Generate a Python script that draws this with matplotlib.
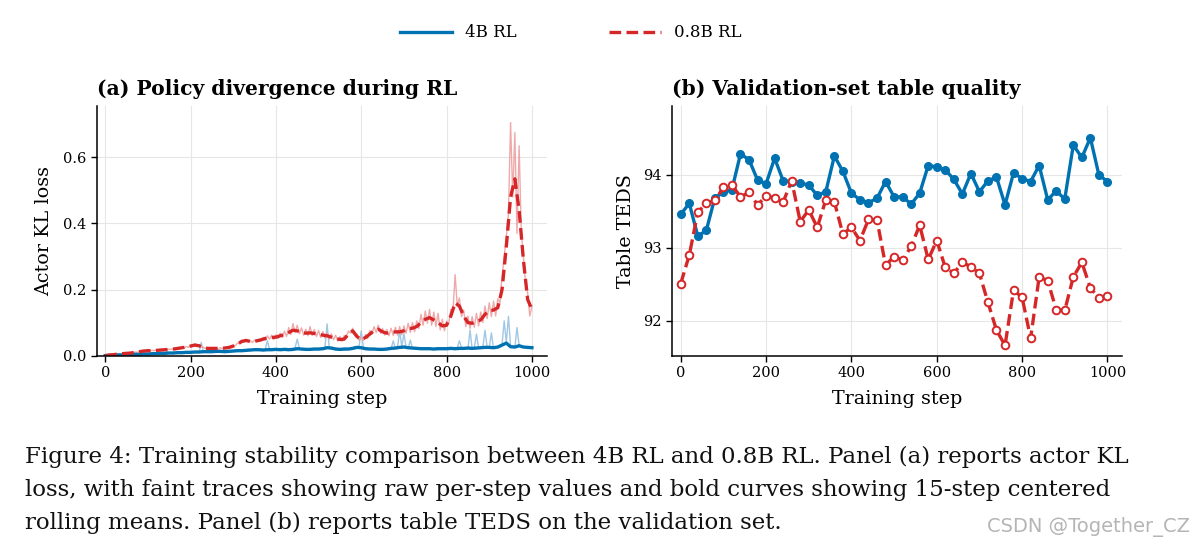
import numpy as np
import matplotlib
matplotlib.use("Agg")
import matplotlib.pyplot as plt

# ---- panel (a): actor KL loss ----
# raw per-step values, sampled every 5 steps
raw_steps = list(range(0, 1001, 5))
kl_raw_08b = [
    0.000, 0.002, 0.001, 0.003, 0.004, 0.003, 0.006, 0.005, 0.007, 0.006,
    0.008, 0.007, 0.009, 0.008, 0.011, 0.010, 0.013, 0.012, 0.015, 0.014,
    0.016, 0.014, 0.016, 0.015, 0.017, 0.016, 0.018, 0.016, 0.019, 0.018,
    0.020, 0.019, 0.021, 0.020, 0.024, 0.021, 0.026, 0.023, 0.028, 0.025,
    0.031, 0.029, 0.036, 0.031, 0.033, 0.026, 0.025, 0.022, 0.023, 0.020,
    0.024, 0.021, 0.023, 0.020, 0.024, 0.021, 0.025, 0.022, 0.027, 0.024,
    0.031, 0.030, 0.038, 0.036, 0.047, 0.041, 0.049, 0.042, 0.045, 0.040,
    0.047, 0.042, 0.050, 0.044, 0.055, 0.046, 0.060, 0.050, 0.062, 0.049,
    0.063, 0.052, 0.068, 0.055, 0.074, 0.058, 0.085, 0.064, 0.097, 0.070,
    0.092, 0.066, 0.084, 0.062, 0.080, 0.060, 0.088, 0.061, 0.079, 0.058,
    0.076, 0.055, 0.073, 0.053, 0.070, 0.050, 0.066, 0.048, 0.062, 0.044,
    0.058, 0.043, 0.061, 0.058, 0.074, 0.068, 0.083, 0.060, 0.065, 0.046,
    0.055, 0.046, 0.064, 0.052, 0.076, 0.065, 0.088, 0.070, 0.092, 0.068,
    0.082, 0.062, 0.079, 0.060, 0.083, 0.061, 0.086, 0.062, 0.088, 0.063,
    0.090, 0.068, 0.098, 0.070, 0.100, 0.072, 0.105, 0.082, 0.125, 0.092,
    0.135, 0.098, 0.140, 0.092, 0.132, 0.088, 0.128, 0.078, 0.110, 0.075,
    0.105, 0.098, 0.140, 0.135, 0.245, 0.150, 0.175, 0.118, 0.138, 0.088,
    0.120, 0.082, 0.118, 0.086, 0.128, 0.090, 0.132, 0.100, 0.150, 0.112,
    0.160, 0.118, 0.165, 0.120, 0.172, 0.160, 0.240, 0.300, 0.360, 0.430,
    0.705, 0.480, 0.675, 0.370, 0.635, 0.380, 0.300, 0.220, 0.190, 0.120,
    0.150,
]
kl_raw_4b = [
    0.000, 0.001, 0.001, 0.002, 0.001, 0.002, 0.002, 0.003, 0.002, 0.003,
    0.003, 0.004, 0.003, 0.004, 0.004, 0.006, 0.004, 0.005, 0.004, 0.006,
    0.005, 0.007, 0.006, 0.008, 0.006, 0.007, 0.007, 0.009, 0.008, 0.012,
    0.007, 0.009, 0.008, 0.010, 0.009, 0.011, 0.008, 0.010, 0.009, 0.012,
    0.010, 0.012, 0.011, 0.013, 0.010, 0.040, 0.012, 0.014, 0.012, 0.013,
    0.011, 0.014, 0.012, 0.015, 0.013, 0.014, 0.012, 0.016, 0.011, 0.014,
    0.013, 0.016, 0.014, 0.017, 0.015, 0.018, 0.016, 0.020, 0.017, 0.019,
    0.018, 0.021, 0.017, 0.020, 0.016, 0.019, 0.045, 0.020, 0.017, 0.021,
    0.018, 0.020, 0.017, 0.021, 0.018, 0.022, 0.017, 0.020, 0.018, 0.024,
    0.050, 0.022, 0.019, 0.021, 0.018, 0.020, 0.017, 0.022, 0.019, 0.021,
    0.018, 0.023, 0.020, 0.026, 0.096, 0.025, 0.021, 0.024, 0.019, 0.022,
    0.018, 0.021, 0.017, 0.022, 0.019, 0.024, 0.023, 0.028, 0.022, 0.030,
    0.075, 0.026, 0.021, 0.023, 0.019, 0.022, 0.018, 0.021, 0.017, 0.020,
    0.018, 0.022, 0.019, 0.024, 0.021, 0.045, 0.022, 0.026, 0.075, 0.027,
    0.067, 0.025, 0.022, 0.047, 0.021, 0.024, 0.020, 0.023, 0.019, 0.022,
    0.020, 0.023, 0.019, 0.022, 0.020, 0.023, 0.019, 0.022, 0.020, 0.023,
    0.019, 0.023, 0.020, 0.024, 0.019, 0.023, 0.045, 0.024, 0.020, 0.024,
    0.021, 0.077, 0.020, 0.025, 0.065, 0.024, 0.022, 0.026, 0.077, 0.025,
    0.024, 0.069, 0.022, 0.027, 0.024, 0.030, 0.034, 0.105, 0.040, 0.119,
    0.028, 0.030, 0.024, 0.085, 0.031, 0.026, 0.028, 0.025, 0.027, 0.023,
    0.025,
]

# 15-step centered rolling means, read every 10 steps
smooth_steps = list(range(0, 1001, 10))
kl_smooth_08b = [
    0.000, 0.002, 0.003, 0.005, 0.006, 0.007, 0.008, 0.010, 0.012, 0.014,
    0.015, 0.015, 0.016, 0.017, 0.018, 0.019, 0.020, 0.022, 0.024, 0.026,
    0.029, 0.032, 0.030, 0.024, 0.022, 0.022, 0.022, 0.022, 0.023, 0.025,
    0.029, 0.035, 0.043, 0.046, 0.043, 0.044, 0.046, 0.050, 0.054, 0.055,
    0.056, 0.060, 0.064, 0.070, 0.077, 0.075, 0.070, 0.068, 0.069, 0.067,
    0.065, 0.062, 0.060, 0.056, 0.052, 0.049, 0.050, 0.065, 0.075, 0.058,
    0.048, 0.055, 0.065, 0.076, 0.080, 0.072, 0.068, 0.070, 0.072, 0.072,
    0.075, 0.082, 0.083, 0.088, 0.100, 0.110, 0.115, 0.108, 0.100, 0.090,
    0.092, 0.120, 0.160, 0.150, 0.120, 0.100, 0.098, 0.104, 0.108, 0.125,
    0.136, 0.138, 0.145, 0.200, 0.330, 0.480, 0.535, 0.440, 0.290, 0.170,
    0.140,
]
kl_smooth_4b = [
    0.000, 0.001, 0.001, 0.002, 0.002, 0.003, 0.003, 0.004, 0.004, 0.005,
    0.005, 0.006, 0.006, 0.007, 0.007, 0.008, 0.008, 0.009, 0.009, 0.010,
    0.010, 0.011, 0.011, 0.012, 0.012, 0.012, 0.013, 0.013, 0.012, 0.013,
    0.014, 0.015, 0.015, 0.016, 0.017, 0.018, 0.018, 0.017, 0.018, 0.018,
    0.019, 0.018, 0.019, 0.018, 0.019, 0.021, 0.020, 0.019, 0.019, 0.020,
    0.020, 0.021, 0.024, 0.023, 0.020, 0.019, 0.020, 0.020, 0.022, 0.025,
    0.024, 0.021, 0.020, 0.020, 0.019, 0.019, 0.020, 0.022, 0.023, 0.025,
    0.026, 0.024, 0.023, 0.022, 0.021, 0.021, 0.021, 0.020, 0.021, 0.021,
    0.021, 0.022, 0.021, 0.022, 0.022, 0.023, 0.022, 0.023, 0.024, 0.025,
    0.025, 0.024, 0.026, 0.032, 0.038, 0.027, 0.026, 0.030, 0.026, 0.025,
    0.024,
]

# ---- panel (b): validation TEDS, every 20 steps ----
val_steps = list(range(0, 1001, 20))
teds_4b = [
    93.46, 93.61, 93.16, 93.24, 93.69, 93.76, 93.80, 94.29, 94.21, 93.93,
    93.88, 94.23, 93.92, 93.91, 93.89, 93.86, 93.72, 93.77, 94.26, 94.05,
    93.75, 93.66, 93.62, 93.68, 93.91, 93.70, 93.70, 93.60, 93.75, 94.13,
    94.11, 94.07, 93.94, 93.74, 94.02, 93.77, 93.92, 93.97, 93.59, 94.03,
    93.95, 93.91, 94.13, 93.66, 93.78, 93.67, 94.41, 94.24, 94.51, 94.00,
    93.91,
]
teds_08b = [
    92.51, 92.90, 93.49, 93.61, 93.65, 93.83, 93.86, 93.70, 93.76, 93.59,
    93.71, 93.69, 93.63, 93.92, 93.36, 93.52, 93.28, 93.66, 93.63, 93.19,
    93.28, 93.10, 93.39, 93.38, 92.76, 92.88, 92.83, 93.02, 93.31, 92.84,
    93.10, 92.73, 92.65, 92.80, 92.74, 92.65, 92.25, 91.87, 91.66, 92.42,
    92.32, 91.76, 92.60, 92.55, 92.15, 92.14, 92.60, 92.80, 92.45, 92.31,
    92.34,
]

blue = '#0072B2'
red = '#D62728'
light_blue = '#8FBFE0'
light_red = '#EE9A9B'

plt.rcParams['font.family'] = ['DejaVu Serif']
plt.rcParams['axes.linewidth'] = 1.1

fig = plt.figure(figsize=(11.94, 5.48), dpi=100)
ax_a = fig.add_axes([0.081, 0.351, 0.377, 0.456])
ax_b = fig.add_axes([0.563, 0.351, 0.377, 0.456])

for ax in (ax_a, ax_b):
    ax.spines['top'].set_visible(False)
    ax.spines['right'].set_visible(False)
    ax.grid(True, color='#e6e6e6', linewidth=0.8)
    ax.set_axisbelow(True)
    ax.tick_params(direction='out', length=4, width=1.0, labelsize=10.5)
    ax.set_xlim(-20, 1035)
    ax.set_xticks([0, 200, 400, 600, 800, 1000])
    ax.set_xlabel('Training step', fontsize=13.8, labelpad=7)

ax_a.plot(raw_steps, kl_raw_4b, color=light_blue, lw=1.0, alpha=0.85)
ax_a.plot(raw_steps, kl_raw_08b, color=light_red, lw=1.0, alpha=0.85)
l4, = ax_a.plot(smooth_steps, kl_smooth_4b, color=blue, lw=2.4,
                label='4B RL')
l08, = ax_a.plot(smooth_steps, kl_smooth_08b, color=red, lw=2.4,
                 ls=(0, (3.5, 1.6)), label='0.8B RL')
ax_a.set_ylim(0, 0.756)
ax_a.set_yticks([0.0, 0.2, 0.4, 0.6])
ax_a.set_ylabel('Actor KL loss', fontsize=13.8, labelpad=7)
ax_a.set_title('(a) Policy divergence during RL', loc='left',
               fontsize=14.6, fontweight='bold', pad=8)

ax_b.plot(val_steps, teds_4b, color=blue, lw=2.4, marker='o', ms=5.5,
          mfc=blue, mec=blue)
ax_b.plot(val_steps, teds_08b, color=red, lw=2.4, ls=(0, (3.5, 1.6)),
          marker='o', ms=5.5, mfc='white', mec=red, mew=1.4)
ax_b.set_ylim(91.52, 94.95)
ax_b.set_yticks([92, 93, 94])
ax_b.set_ylabel('Table TEDS', fontsize=13.8, labelpad=6)
ax_b.set_title('(b) Validation-set table quality', loc='left',
               fontsize=14.6, fontweight='bold', pad=8)

fig.legend(handles=[l4, l08], loc='center', bbox_to_anchor=(0.478, 0.940),
           ncol=2, frameon=False, fontsize=12, handlelength=3.1,
           handletextpad=0.75, columnspacing=5.6)

caption = [
    'Figure 4: Training stability comparison between 4B RL and 0.8B RL. Panel (a) reports actor KL',
    'loss, with faint traces showing raw per-step values and bold curves showing 15-step centered',
    'rolling means. Panel (b) reports table TEDS on the validation set.',
]
for i, line in enumerate(caption):
    fig.text(25 / 1194, 1 - (457 + 33 * i) / 548, line, ha='left', va='center',
             fontsize=16.5, family='DejaVu Serif', color='#111111')

fig.text(1190 / 1194, 1 - 527 / 548, 'CSDN @Together_CZ', ha='right',
         va='center', fontsize=14, family='DejaVu Sans', color='#b5b5b5')

fig.savefig('out.png', dpi=100)
